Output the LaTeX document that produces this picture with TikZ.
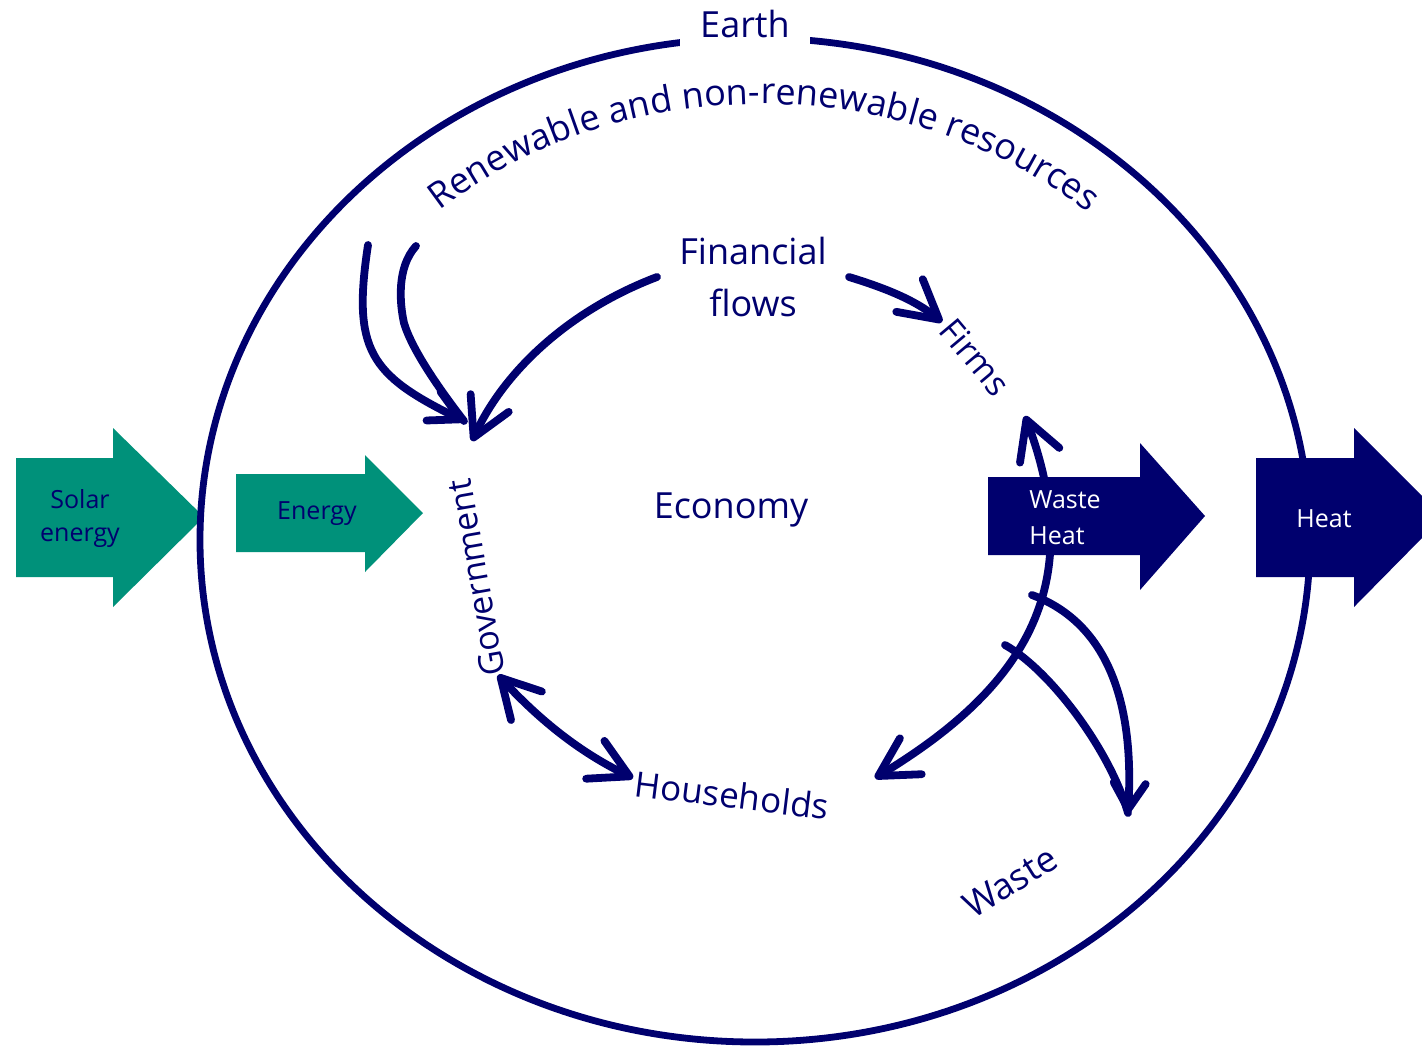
\documentclass[tikz,border=0pt]{standalone}
\usepackage{fontspec}
\setmainfont{Open Sans}
\usepackage{tikz}
\usetikzlibrary{arrows.meta}
\usetikzlibrary{decorations.text}
\definecolor{navy}{RGB}{0,0,110}
\definecolor{solarteal}{RGB}{0,145,122}

\begin{document}
\begin{tikzpicture}[x=0.5pt,y=-0.5pt]
	\useasboundingbox (0,0) rectangle (1422,1045);
	% incoming energy
	\fill[solarteal] (16,458) -- (113,458) -- (113,428) -- (204,517) -- (113,607) -- (113,577) -- (16,577) -- cycle;
	\fill[solarteal] (236,474) -- (365,474) -- (365,455) -- (423,513) -- (365,572) -- (365,552) -- (236,552) -- cycle;
	% the earth
	\draw[navy, line width=3.4pt] (755,540) ellipse [x radius=555, y radius=502];
	\node[fill=white, text=navy, font=\fontsize{18}{22}\selectfont,
		inner xsep=10pt, inner ysep=5pt] (earth) at (745,24) {Earth};
	\path[decorate, decoration={text along path, text align=center,
			text={|\fontsize{18}{20}\selectfont\color{navy}|Renewable and non-renewable resources}}]
		(762,540) ++(228.8:493 and 436) arc [start angle=228.8, end angle=311.6, x radius=493, y radius=436];
	% outgoing heat
	\fill[navy] (1256,458) -- (1354,458) -- (1354,428) -- (1422,496) -- (1422,538) -- (1354,607) -- (1354,577) -- (1256,577) -- cycle;

	\begin{scope}[every node/.style = {text=navy, inner sep=0pt,
			font=\fontsize{18}{26}\selectfont}]
		\node[align=center, inner xsep=11pt] (fin) at (753,277) {Financial\\flows};
		\node (econ) at (731,510) {Economy};
		\node[rotate=-50, font=\fontsize{17}{20}\selectfont] (firms) at (975,357) {Firms};
		\node[rotate=100, font=\fontsize{17}{20}\selectfont] (gov) at (476,578) {Government};
		\node[rotate=-7, font=\fontsize{17.5}{20}\selectfont] (house) at (732,795) {Households};
		\node[rotate=32] (waste) at (1010,882) {Waste};
		\node[font=\fontsize{12.5}{16.5}\selectfont, align=center] (solar) at (80,518) {Solar\\energy};
		\node[font=\fontsize{12.5}{16.5}\selectfont] (energy) at (317,514) {Energy};
		\node[text=white, font=\fontsize{12.5}{16.5}\selectfont] (heat) at (1324,519) {Heat};
	\end{scope}

	\coordinate (res-a) at (368,245);
	\coordinate (res-b) at (416,246);
	\coordinate (gov-top) at (464,421);
	\coordinate (gov-fin) at (472,441);
	\coordinate (gov-low) at (498,675);
	\coordinate (firms-in) at (942,322);
	\coordinate (firms-out) at (1025,416);
	\coordinate (house-in) at (633,778);
	\coordinate (house-out) at (875,778);
	\coordinate (waste-a) at (1032,595);
	\coordinate (waste-b) at (1005,645);
	\coordinate (waste-in) at (1128,813);

	\begin{scope}[>={Straight Barb[length=19pt, width=21pt, round]},
			flow/.style={draw=navy, line width=3.9pt, line cap=round}]
		\draw[flow, -{Straight Barb[length=15pt, width=16pt, round]}] (res-a) .. controls (352,350) and (370,375) .. (gov-top);
		\draw[flow] (res-b) .. controls (396,268) and (400,305) .. (404,323) .. controls (412,350) and (440,390) .. (gov-top);
		\draw[flow, ->] (fin.west) .. controls (570,310) and (505,370) .. (gov-fin);
		\draw[flow, ->] (fin.east) .. controls (885,288) and (915,300) .. (firms-in);
		\draw[flow, <->] (gov-low) .. controls (535,715) and (575,750) .. (house-in);
		\draw[flow, <->] (house-out) .. controls (1020,690) and (1090,590) .. (firms-out);
		\draw[flow, -{Straight Barb[length=13pt, width=16pt, round]}] (waste-a) .. controls (1100,620) and (1135,690) .. (waste-in);
		\draw[flow] (waste-b) .. controls (1050,670) and (1110,750) .. (waste-in);
	\end{scope}

	% waste heat leaving the economy
	\fill[navy] (988,477) -- (1140,477) -- (1140,443) -- (1205,516) -- (1140,590) -- (1140,555) -- (988,555) -- cycle;
	\node[text=white, inner sep=0pt, align=left, anchor=west,
		font=\fontsize{12.5}{18}\selectfont] (wheat) at (1029,518) {Waste\\Heat};
\end{tikzpicture}
\end{document}
